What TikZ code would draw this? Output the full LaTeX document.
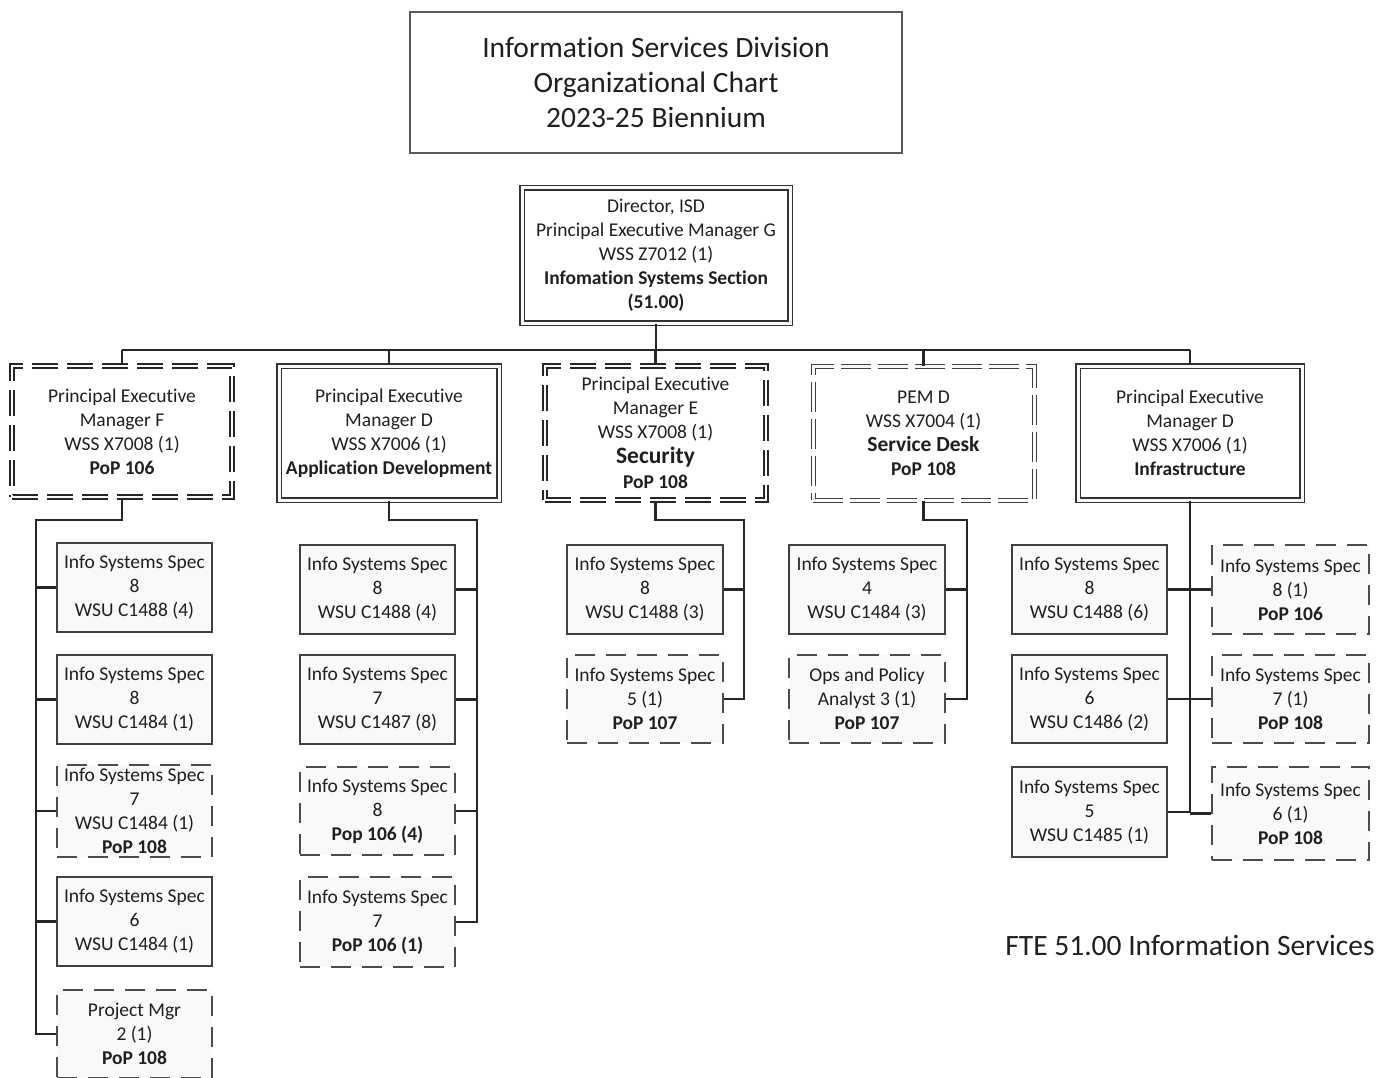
\documentclass[tikz,border=0pt]{standalone}
\usepackage{fontspec}
\setmainfont{Carlito}[Ligatures={NoCommon}]
\begin{document}
\begin{tikzpicture}[x=1pt,y=-1pt,
  txt/.style={text=black!88, align=center, inner sep=0pt, font=\fontsize{19.5}{24}\selectfont},
  solidbox/.style={txt, draw=black!75, line width=1.4pt, fill=gray!5},
  dashbox/.style={txt, draw=black!70, line width=1.4pt, fill=gray!5, dash pattern=on 20pt off 11pt},
  dblbox/.style={txt, draw=black!80, line width=1.2pt, double=gray!5, double distance=3pt},
  thickdash/.style={txt, draw=black!85, line width=1.7pt, double=gray!5, double distance=2.2pt, dash pattern=on 26pt off 9pt},
  thindash/.style={txt, draw=black!75, line width=1pt, double=gray!5, double distance=3pt, dash pattern=on 30pt off 7pt},
  conn/.style={draw=black!85, line width=2.4pt}]
\useasboundingbox (0,0) rectangle (1395,1078);
\newcommand\orgbox[7]{%
  \pgfmathsetmacro\bw{#5-#3}\pgfmathsetmacro\bh{#6-#4}%
  \node[#2, minimum width=\bw pt, minimum height=\bh pt] (#1) at ({(#3+#5)/2},{(#4+#6)/2}) {#7};}

% title
\orgbox{title}{txt,draw=black!65,line width=1.4pt,font=\fontsize{29.5}{35}\selectfont}{410}{12}{902}{153}{Information Services Division\\Organizational Chart\\2023-25 Biennium}

% director
\orgbox{dir}{dblbox}{522}{188}{790}{323}{Director, ISD\\Principal Executive Manager G\\WSS Z7012 (1)\\\textbf{Infomation Systems Section}\\\textbf{(51.00)}}

% level 2
\orgbox{pemF}{thickdash}{12}{366}{232}{497}{Principal Executive\\Manager F\\WSS X7008 (1)\\\textbf{PoP 106}}
\orgbox{pemD}{dblbox}{279}{366}{499}{500}{Principal Executive\\Manager D\\WSS X7006 (1)\\\textbf{Application Development}}
\orgbox{pemE}{thickdash}{545}{366}{766}{500}{Principal Executive\\Manager E\\WSS X7008 (1)\\[1pt]{\fontsize{23.5}{26}\selectfont\bfseries Security}\\[1pt]\textbf{PoP 108}}
\orgbox{pemDD}{thindash}{813}{366}{1034}{500}{PEM D\\WSS X7004 (1)\\{\fontsize{21.5}{25}\selectfont\bfseries Service Desk}\\\textbf{PoP 108}}
\orgbox{infra}{dblbox}{1078}{366}{1302}{500}{Principal Executive\\Manager D\\WSS X7006 (1)\\\textbf{Infrastructure}}

% column 1
\orgbox{s11}{solidbox}{57}{543}{212}{632}{Info Systems Spec\\8\\WSU C1488 (4)}
\orgbox{s12}{solidbox}{57}{655}{212}{744}{Info Systems Spec\\8\\WSU C1484 (1)}
\orgbox{s13}{dashbox}{57}{765}{212}{857}{Info Systems Spec\\7\\WSU C1484 (1)\\\textbf{PoP 108}}
\orgbox{s14}{solidbox}{57}{877}{212}{966}{Info Systems Spec\\6\\WSU C1484 (1)}
\orgbox{s15}{dashbox}{57}{990}{212}{1078}{Project Mgr\\2 (1)\\\textbf{PoP 108}}

% column 2
\orgbox{s21}{solidbox}{300}{545}{455}{634}{Info Systems Spec\\8\\WSU C1488 (4)}
\orgbox{s22}{solidbox}{300}{655}{455}{744}{Info Systems Spec\\7\\WSU C1487 (8)}
\orgbox{s23}{dashbox}{300}{767}{455}{855}{Info Systems Spec\\8\\\textbf{Pop 106 (4)}}
\orgbox{s24}{dashbox}{300}{877}{455}{967}{Info Systems Spec\\7\\\textbf{PoP 106 (1)}}

% column 3
\orgbox{s31}{solidbox}{567}{545}{723}{634}{Info Systems Spec\\8\\WSU C1488 (3)}
\orgbox{s32}{dashbox}{567}{655}{723}{743}{Info Systems Spec\\5 (1)\\\textbf{PoP 107}}

% column 4
\orgbox{s41}{solidbox}{789}{545}{945}{634}{Info Systems Spec\\4\\WSU C1484 (3)}
\orgbox{s42}{dashbox}{789}{655}{945}{743}{Ops and Policy\\Analyst 3 (1)\\\textbf{PoP 107}}

% column 5
\orgbox{s51}{solidbox}{1012}{545}{1167}{634}{Info Systems Spec\\8\\WSU C1488 (6)}
\orgbox{s52}{solidbox}{1012}{655}{1167}{743}{Info Systems Spec\\6\\WSU C1486 (2)}
\orgbox{s53}{solidbox}{1012}{767}{1167}{857}{Info Systems Spec\\5\\WSU C1485 (1)}
\orgbox{r51}{dashbox}{1212}{545}{1369}{634}{Info Systems Spec\\8 (1)\\\textbf{PoP 106}}
\orgbox{r52}{dashbox}{1212}{655}{1369}{743}{Info Systems Spec\\7 (1)\\\textbf{PoP 108}}
\orgbox{r53}{dashbox}{1212}{767}{1369}{860}{Info Systems Spec\\6 (1)\\\textbf{PoP 108}}

\node[txt, font=\fontsize{29.5}{34}\selectfont] (fte) at (1190,945) {FTE 51.00 Information Services};

% connectors
\coordinate (busL) at (122,350);
\coordinate (busR) at (1190,350);
\draw[conn] (busL) -- (busR);
\draw[conn] (dir.south) -- (dir.south |- busL);
\foreach \n in {pemF,pemD,pemE,pemDD,infra}{\draw[conn] (\n.north |- busL) -- (\n.north);}

\coordinate (c1t) at (36,520);
\draw[conn] (pemF.south) |- (c1t) -- (c1t |- s15.west) -- (s15.west);
\foreach \n in {s11,s12,s13,s14}{\draw[conn] (c1t |- \n.west) -- (\n.west);}

\coordinate (c2t) at (477,520);
\draw[conn] (pemD.south) |- (c2t) -- (c2t |- s24.east) -- (s24.east);
\foreach \n in {s21,s22,s23}{\draw[conn] (c2t |- \n.east) -- (\n.east);}

\coordinate (c3t) at (744,520);
\draw[conn] (pemE.south) |- (c3t) -- (c3t |- s32.east) -- (s32.east);
\draw[conn] (c3t |- s31.east) -- (s31.east);

\coordinate (c4t) at (967,520);
\draw[conn] (pemDD.south) |- (c4t) -- (c4t |- s42.east) -- (s42.east);
\draw[conn] (c4t |- s41.east) -- (s41.east);

\draw[conn] (infra.south) -- (infra.south |- s53.east);
\foreach \n in {s51,s52,s53}{\draw[conn] (\n.east) -- (\n.east -| infra.south);}
\foreach \n in {r51,r52,r53}{\draw[conn] (\n.west) -- (\n.west -| infra.south);}
\end{tikzpicture}
\end{document}
